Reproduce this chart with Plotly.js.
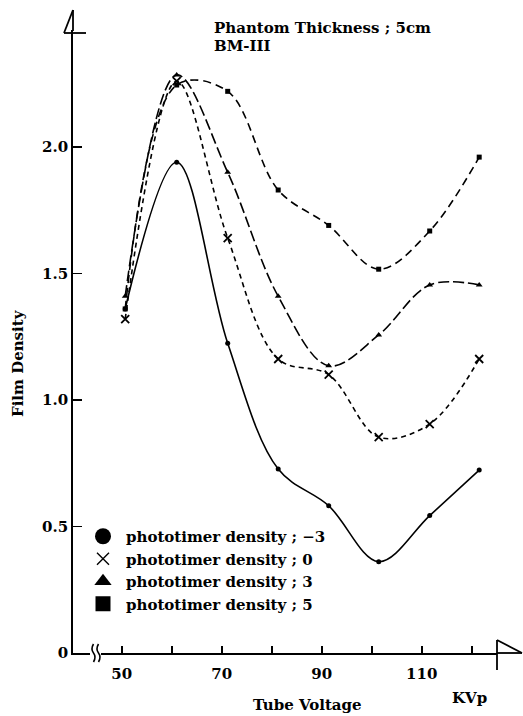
<!DOCTYPE html>
<html>
<head>
<meta charset="utf-8">
<script src="https://cdn.plot.ly/plotly-3.0.1.min.js"></script>
<style>html,body{margin:0;padding:0;background:#fff;}#chart{width:523px;height:716px;}</style>
</head>
<body>
<div id="chart"></div>
<script>
// ---- data ----
const kvp = [50.7, 61, 71.2, 81.3, 91.4, 101.4, 111.6, 121.5];
const densityMinus3 = [1.36, 1.94, 1.224, 0.727, 0.582, 0.361, 0.543, 0.723];
const density0 = [1.32, 2.26, 1.64, 1.162, 1.10, 0.853, 0.905, 1.162];
const density3 = [1.41, 2.285, 1.90, 1.41, 1.135, 1.257, 1.455, 1.455];
const density5 = [1.36, 2.245, 2.22, 1.83, 1.69, 1.517, 1.668, 1.96];
const seriesNames = ['phototimer density ; \u22123', 'phototimer density ; 0', 'phototimer density ; 3', 'phototimer density ; 5'];
const xTickVals = [50, 60, 70, 80, 90, 100, 110, 120];
const xTickText = ['50', '', '70', '', '90', '', '110', ''];
const yTickVals = [0, 0.5, 1.0, 1.5, 2.0];
const yTickText = ['0', '0.5', '1.0', '1.5', '2.0'];

// ---- layout geometry ----
const W = 523, H = 716;
const M = {l: 73, r: 26, t: 30, b: 63};
const pw = W - M.l - M.r, ph = H - M.t - M.b;
const px = x => (x - M.l) / pw;
const py = y => (H - M.b - y) / ph;
const FONT = 'DejaVu Serif';
const ink = '#000';

const seriesData = [densityMinus3, density0, density3, density5];
const dashes = ['solid', '5px,4px', '11px,4px', '8px,5px'];
const symbols = ['circle', 'x-thin-open', 'triangle-up', 'square'];
const msz = [5, 8, 6, 5];
const legSz = [16, 12, 15, 15];

const traces = [];
seriesData.forEach((ys, i) => {
  traces.push({
    x: kvp, y: ys, type: 'scatter', mode: 'lines+markers',
    line: {shape: 'spline', smoothing: 1, color: ink, width: 1.6, dash: dashes[i]},
    marker: {symbol: symbols[i], size: msz[i], color: ink, line: {color: ink, width: i === 1 ? 1.8 : 0}},
    showlegend: false, name: seriesNames[i], hoverinfo: 'x+y'
  });
});
seriesData.forEach((ys, i) => {
  traces.push({
    x: [null], y: [null], type: 'scatter', mode: 'markers', name: seriesNames[i],
    marker: {symbol: symbols[i], size: legSz[i], color: ink, line: {color: ink, width: i === 1 ? 1.4 : 0}},
    showlegend: true
  });
});

function line(x0, y0, x1, y1) {
  return {type: 'line', xref: 'paper', yref: 'paper', x0: px(x0), y0: py(y0), x1: px(x1), y1: py(y1),
    line: {color: ink, width: 1.8}};
}
function squiggle(cx) {
  const pts = [[cx, 644], [cx - 3, 649], [cx, 653], [cx + 3, 657], [cx, 662]];
  let d = 'M' + px(pts[0][0]) + ',' + py(pts[0][1]);
  d += ' Q' + px(pts[1][0]) + ',' + py(pts[1][1]) + ' ' + px(pts[2][0]) + ',' + py(pts[2][1]);
  d += ' Q' + px(pts[3][0]) + ',' + py(pts[3][1]) + ' ' + px(pts[4][0]) + ',' + py(pts[4][1]);
  return {type: 'path', xref: 'paper', yref: 'paper', path: d, line: {color: ink, width: 1.6}};
}

const shapes = [
  line(73, 31, 73, 10), line(73, 10, 64, 33), line(64, 33, 86, 33),
  line(497, 653, 522, 653), line(497, 640, 497, 670), line(497, 640, 522, 653),
  {type: 'rect', xref: 'paper', yref: 'paper', x0: px(90), x1: px(101), y0: py(651), y1: py(655), fillcolor: '#fff', line: {width: 0}},
  squiggle(93.5), squiggle(98.5)
];

const tf = {family: FONT, size: 15, color: ink};
const annotations = [
  {text: '<b>Phantom Thickness ; 5cm</b>', x: px(212), y: py(28), xref: 'paper', yref: 'paper', xanchor: 'left', yanchor: 'middle', showarrow: false, font: tf},
  {text: '<b>BM-III</b>', x: px(212), y: py(46), xref: 'paper', yref: 'paper', xanchor: 'left', yanchor: 'middle', showarrow: false, font: tf},
  {text: '<b>Tube Voltage</b>', x: px(307), y: py(705), xref: 'paper', yref: 'paper', xanchor: 'center', yanchor: 'middle', showarrow: false, font: tf},
  {text: '<b>KVp</b>', x: px(469), y: py(698), xref: 'paper', yref: 'paper', xanchor: 'center', yanchor: 'middle', showarrow: false, font: tf},
  {text: '<b>Film Density</b>', x: px(18), y: py(363), xref: 'paper', yref: 'paper', xanchor: 'center', yanchor: 'middle', textangle: -90, showarrow: false, font: tf}
];

const tickFont = {family: FONT, size: 15, color: ink, weight: 'bold'};
const layout = {
  width: W, height: H, margin: M,
  paper_bgcolor: '#fff', plot_bgcolor: '#fff',
  font: {family: FONT, color: ink},
  xaxis: {range: [40.26, 125.06], showgrid: false, zeroline: false, showline: true, linecolor: ink, linewidth: 1.8,
    ticks: 'inside', ticklen: 7, tickwidth: 1.6, tickcolor: ink, tickvals: xTickVals, ticktext: xTickText,
    tickfont: tickFont, ticklabelstandoff: 6, fixedrange: true},
  yaxis: {range: [0, ph / 253], showgrid: false, zeroline: false, showline: true, linecolor: ink, linewidth: 1.8,
    ticks: 'inside', ticklen: 9, tickwidth: 1.6, tickcolor: ink, tickvals: yTickVals, ticktext: yTickText,
    tickfont: tickFont, fixedrange: true},
  legend: {x: px(80), y: py(520), xanchor: 'left', yanchor: 'top', bgcolor: 'rgba(0,0,0,0)',
    font: {family: FONT, size: 15, color: ink, weight: 'bold'}, itemwidth: 36, tracegroupgap: 0},
  shapes: shapes, annotations: annotations, showlegend: true
};

Plotly.newPlot('chart', traces, layout, {displayModeBar: false, staticPlot: true});
</script>
</body>
</html>
